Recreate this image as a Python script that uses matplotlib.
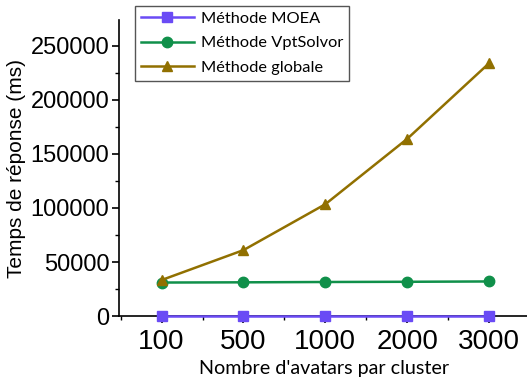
import matplotlib
matplotlib.use("Agg")
import matplotlib.pyplot as plt
from matplotlib.ticker import MultipleLocator

categories = ["100", "500", "1000", "2000", "3000"]
moea = [300, 300, 300, 300, 300]
vptsolvor = [31000, 31200, 31500, 31700, 32000]
globale = [33300, 61000, 103500, 164000, 234000]

fig = plt.figure(figsize=(5.27, 3.84), dpi=100)
ax = fig.add_axes([0.2258, 0.177, 0.78, 0.771])
x = list(range(len(categories)))

ax.plot(x, moea, color="#6A4BF5", lw=1.8, marker="s", ms=6.5, clip_on=False, zorder=3,
        label="Méthode MOEA")
ax.plot(x, vptsolvor, color="#10904A", lw=1.8, marker="o", ms=7.5, clip_on=False, zorder=3,
        label="Méthode VptSolvor")
ax.plot(x, globale, color="#917000", lw=1.8, marker="^", ms=7.5, clip_on=False, zorder=4,
        label="Méthode globale")

ax.set_xlim(-0.52, 4.5)
ax.set_ylim(0, 274000)
ax.set_xticks(x)
ax.set_xticklabels(categories, family="Liberation Sans", fontsize=20)
ax.xaxis.set_minor_locator(MultipleLocator(0.5))
ax.yaxis.set_major_locator(MultipleLocator(50000))
ax.yaxis.set_minor_locator(MultipleLocator(25000))
for lab in ax.get_yticklabels():
    lab.set_family("Liberation Sans")
    lab.set_fontsize(17)
ax.tick_params(which="major", length=5, width=1.2, direction="out")
ax.tick_params(which="minor", length=3, width=1.0, direction="out")
ax.tick_params(axis="x", which="major", pad=4)
ax.tick_params(axis="y", which="major", pad=2)
for s in ["top", "right"]:
    ax.spines[s].set_visible(False)
for s in ["left", "bottom"]:
    ax.spines[s].set_linewidth(1.2)

ax.set_ylabel("Temps de réponse (ms)", family="Liberation Sans", fontsize=15, labelpad=3)
ax.set_xlabel("Nombre d'avatars par cluster", family="Lato", fontsize=14.2, labelpad=4)

leg = ax.legend(loc="upper left", bbox_to_anchor=(0.02, 1.075), frameon=True, fancybox=False,
                edgecolor="#555555", framealpha=1, prop={"family": "Lato", "size": 11.8},
                handlelength=3.2, borderpad=0.35, labelspacing=0.6, handletextpad=0.45)
leg.get_frame().set_linewidth(1.0)

fig.savefig("out.png", dpi=100)
